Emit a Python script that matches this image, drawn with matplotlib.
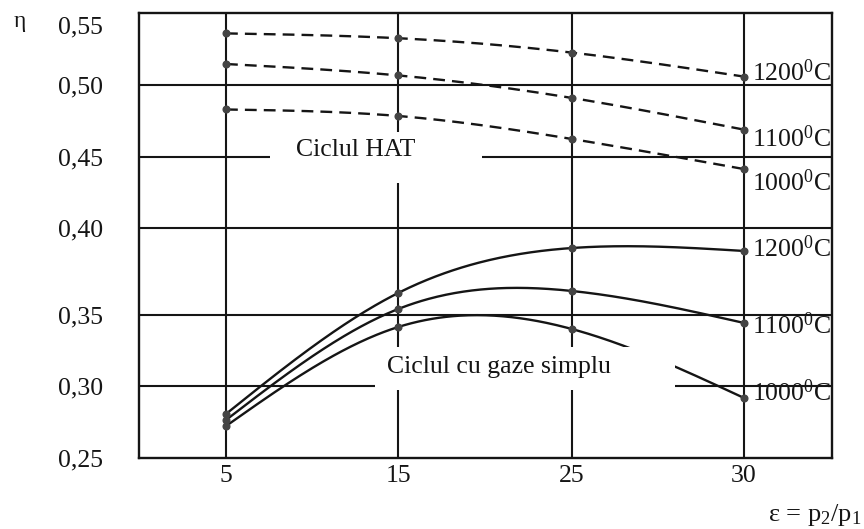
import numpy as np
import matplotlib
matplotlib.use("Agg")
import matplotlib.pyplot as plt
from matplotlib.patches import Rectangle

plt.rcParams['font.family'] = ['Liberation Serif', 'DejaVu Serif']
plt.rcParams['mathtext.fontset'] = 'custom'
plt.rcParams['mathtext.rm'] = 'Liberation Serif'
plt.rcParams['mathtext.it'] = 'Liberation Serif:italic'

# ---- data ----
eps = [5, 15, 25, 30]
hat_1200 = [0.543, 0.539, 0.527, 0.507]
hat_1100 = [0.5175, 0.508, 0.491, 0.469]
hat_1000 = [0.483, 0.4785, 0.4625, 0.4415]
gas_1200 = [0.2806, 0.3626, 0.3885, 0.3868]
gas_1100 = [0.2764, 0.3534, 0.3638, 0.3444]
gas_1000 = [0.2722, 0.3415, 0.3401, 0.2917]
temps = ['1200', '1100', '1000']
xticks = [5, 15, 25, 30]
xticklabels = ['5', '15', '25', '30']
yticks = [0.25, 0.30, 0.35, 0.40, 0.45, 0.50, 0.55]
yticklabels = ['0,25', '0,30', '0,35', '0,40', '0,45', '0,50', '0,55']

# ---- non-uniform axis scales of the original drawing ----
XV = np.array([0, 5, 15, 25, 30, 35], float)
XP = np.array([139, 226, 398, 572, 744, 832], float)
YV = np.array([0.25, 0.30, 0.35, 0.40, 0.45, 0.50, 0.55, 0.56])
YP = -np.array([458, 386, 315, 228, 157, 85, 25, 13], float)

def fx(v): return np.interp(v, XV, XP)
def fx_inv(p): return np.interp(p, XP, XV)
def fy(v): return np.interp(v, YV, YP)
def fy_inv(p): return np.interp(p, YP, YV)

def smooth(xs, ys, n=300):
    px = fx(np.asarray(xs, float)); py = fy(np.asarray(ys, float))
    m = len(px); h = np.diff(px)
    A = np.zeros((m, m)); b = np.zeros(m)
    A[0, 0] = A[-1, -1] = 1
    for i in range(1, m - 1):
        A[i, i - 1] = h[i - 1]; A[i, i] = 2 * (h[i - 1] + h[i]); A[i, i + 1] = h[i]
        b[i] = 3 * ((py[i + 1] - py[i]) / h[i] - (py[i] - py[i - 1]) / h[i - 1])
    c = np.linalg.solve(A, b)
    t = np.linspace(px[0], px[-1], n)
    idx = np.clip(np.searchsorted(px, t) - 1, 0, m - 2)
    dx = t - px[idx]
    bb = (py[idx + 1] - py[idx]) / h[idx] - h[idx] * (2 * c[idx] + c[idx + 1]) / 3
    d = (c[idx + 1] - c[idx]) / (3 * h[idx])
    yy = py[idx] + bb * dx + c[idx] * dx ** 2 + d * dx ** 3
    return fx_inv(t), fy_inv(yy)

W, H = 864, 529
fig = plt.figure(figsize=(W / 100, H / 100), dpi=100)
ax = fig.add_axes([139 / W, 1 - 458 / H, (832 - 139) / W, (458 - 13) / H])
ax.set_xscale('function', functions=(fx, fx_inv))
ax.set_yscale('function', functions=(fy, fy_inv))
ax.set_xlim(0, 35)
ax.set_ylim(0.25, 0.56)

ink = '#151515'
for x in xticks:
    ax.axvline(x, color=ink, lw=1.5, zorder=1)
for y in yticks[1:-1]:
    ax.axhline(y, color=ink, lw=1.5, zorder=1)

# white gaps behind the two captions
ax.add_patch(Rectangle((7.56, 0.4317), 19.83 - 7.56, 0.4674 - 0.4317,
                       facecolor='white', edgecolor='none', zorder=4))
ax.add_patch(Rectangle((13.66, 0.2972), 28.0 - 13.66, 0.3275 - 0.2972,
                       facecolor='white', edgecolor='none', zorder=4))

hat = [hat_1200, hat_1100, hat_1000]
gas = [gas_1200, gas_1100, gas_1000]
for series in hat:
    sx, sy = smooth(eps, series)
    ax.plot(sx, sy, color=ink, lw=1.7, ls=(0, (5, 3)), zorder=3)
    ax.plot(eps, series, 'o', color='#444444', ms=4.8, zorder=3.5)
for series in gas:
    sx, sy = smooth(eps, series)
    ax.plot(sx, sy, color=ink, lw=1.7, zorder=3)
    ax.plot(eps, series, 'o', color='#444444', ms=4.8, zorder=3.5)

hat_dy = [3, -6.5, -10]
gas_dy = [1.5, -2, 4]
for t, s, dy in zip(temps, hat, hat_dy):
    ax.annotate(t + r'$^{\mathrm{0}}$C', (eps[-1], s[-1]), xytext=(5.5, dy),
                textcoords='offset points', ha='left', va='center', fontsize=18.5,
                color=ink, zorder=6, annotation_clip=False)
for t, s, dy in zip(temps, gas, gas_dy):
    ax.annotate(t + r'$^{\mathrm{0}}$C', (eps[-1], s[-1]), xytext=(5.5, dy),
                textcoords='offset points', ha='left', va='center', fontsize=18.5,
                color=ink, zorder=6, annotation_clip=False)

ax.text(12.56, 0.4549, 'Ciclul HAT', ha='center', va='center', fontsize=18.5,
        color=ink, zorder=6)
ax.text(20.78, 0.3134, 'Ciclul cu gaze simplu', ha='center', va='center',
        fontsize=18.5, color=ink, zorder=6)

ax.set_xticks(xticks)
ax.set_xticklabels(xticklabels)
ax.set_yticks(yticks)
ax.set_yticklabels(yticklabels)
ax.tick_params(axis='both', length=0, labelsize=18.5, colors=ink)
ax.tick_params(axis='y', pad=26)
ax.tick_params(axis='x', pad=5)
ax.minorticks_off()
for sp in ax.spines.values():
    sp.set_linewidth(1.7)
    sp.set_color(ink)

fig.text(20 / W, 1 - 22 / H, 'η', ha='center', va='center', fontsize=17, color=ink)
fig.text(861 / W, 8 / H, r'ε = p$_2$/p$_1$', ha='right', va='baseline', fontsize=19,
         color=ink)

fig.savefig('out.png', dpi=100, facecolor='white')
